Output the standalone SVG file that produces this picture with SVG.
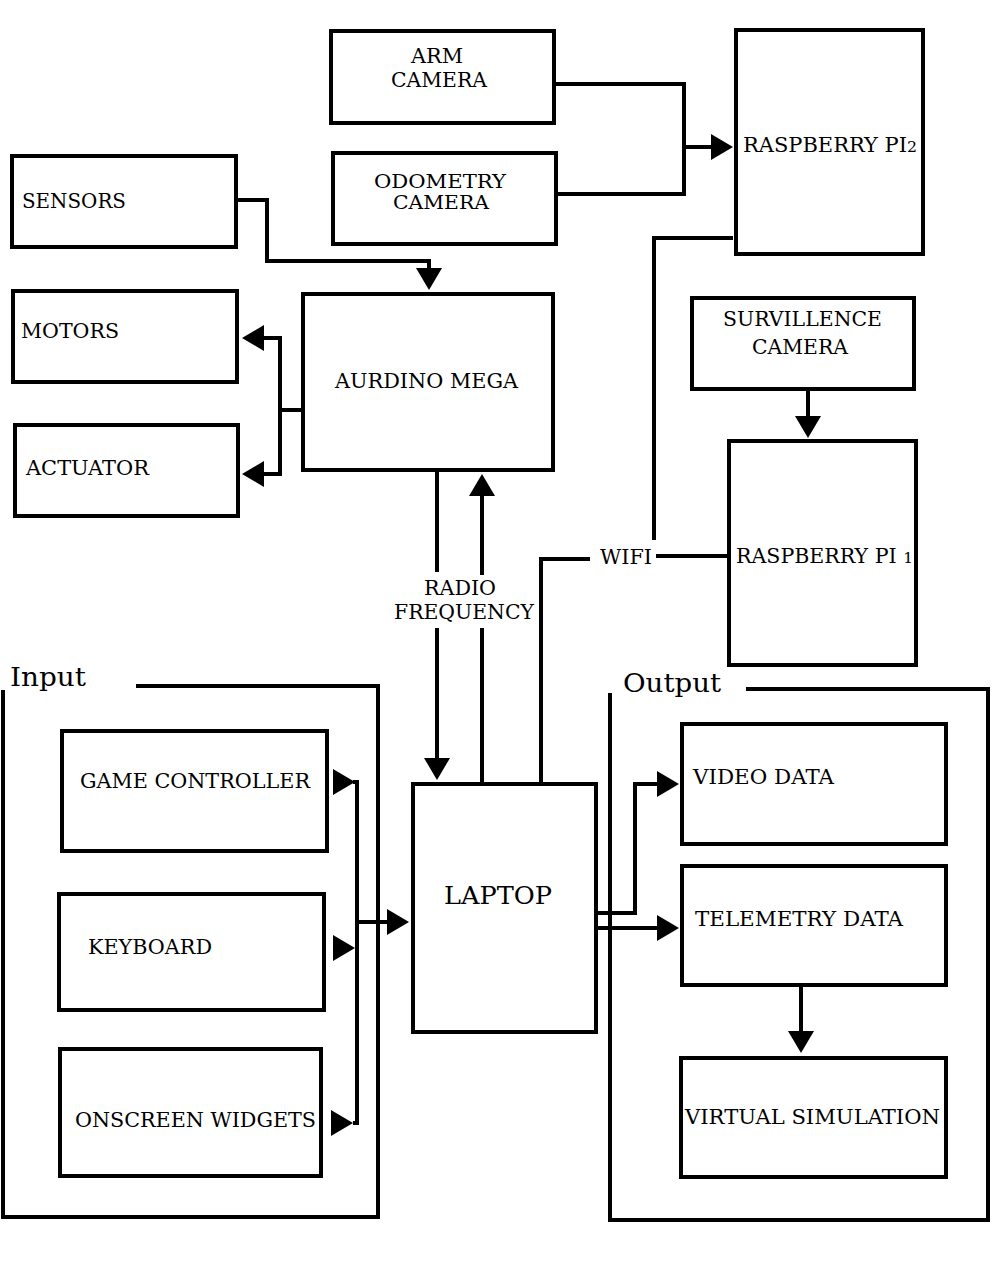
<svg xmlns="http://www.w3.org/2000/svg" width="1008" height="1276" viewBox="0 0 1008 1276">
<style>
  .box { fill: #fff; stroke: #000; stroke-width: 4; }
  .grp { fill: none; stroke: #000; stroke-width: 4; }
  .ln { fill: none; stroke: #000; stroke-width: 4; }
  .arr { marker-end: url(#ah); }
  text { font-family: "DejaVu Serif", "Liberation Serif", serif; font-size: 20px; fill: #000; }
  .sm { font-size: 19px; }
  .big { font-size: 25px; }
  .ttl { font-size: 26px; }
  .dg { font-size: 15px; }
</style>
<defs>
  <marker id="ah" markerUnits="userSpaceOnUse" markerWidth="24" markerHeight="26" refX="2" refY="13" orient="auto">
    <path d="M0,0 L22,13 L0,26 z" fill="#000"/>
  </marker>
</defs>
<rect width="1008" height="1276" fill="#fff"/>

<g id="input-group">
  <path class="grp" d="M136,686 H378 V1217 H3 V690"/>
  <text class="ttl" x="10" y="686" textLength="76" lengthAdjust="spacingAndGlyphs">Input</text>
</g>
<g id="output-group">
  <path class="grp" d="M746,689 H988 V1220 H610 V693"/>
  <text class="ttl" x="623" y="692" textLength="98" lengthAdjust="spacingAndGlyphs">Output</text>
</g>

<g id="connectors">
  <path class="ln" d="M554,84 H684 V194 H556"/>
  <path class="ln arr" d="M684,147 H713"/>
  <path class="ln arr" d="M236,200 H267 V261 H429 V270"/>
  <path class="ln" d="M303,410 H280"/>
  <path class="ln arr" d="M280,410 V338 H262"/>
  <path class="ln arr" d="M280,410 V474 H262"/>
  <path class="ln" d="M437,470 V572"/>
  <path class="ln arr" d="M437,628 V760"/>
  <path class="ln" d="M482,784 V628"/>
  <path class="ln arr" d="M482,575 V494"/>
  <path class="ln" d="M541,784 V559 H590"/>
  <path class="ln" d="M656,556 H729"/>
  <path class="ln" d="M654,540 V238 H733"/>
  <path class="ln arr" d="M808,389 V418"/>
  <path class="ln arr" d="M333,782 H335"/>
  <path class="ln arr" d="M333,948 H335"/>
  <path class="ln arr" d="M331,1123 H333"/>
  <path class="ln" d="M353,782 H357 V1123 H353"/>
  <path class="ln arr" d="M357,922 H389"/>
  <path class="ln arr" d="M596,913 H635 V784 H659"/>
  <path class="ln arr" d="M596,928 H659"/>
  <path class="ln arr" d="M801,987 V1033"/>
  <text x="600" y="564" textLength="52" lengthAdjust="spacingAndGlyphs">WIFI</text>
  <text x="424" y="595" textLength="72" lengthAdjust="spacingAndGlyphs">RADIO</text>
  <text x="394" y="619" textLength="140" lengthAdjust="spacingAndGlyphs">FREQUENCY</text>
</g>

<g id="arm-camera">
  <rect class="box" x="331" y="31" width="223" height="92"/>
  <text x="411" y="63" textLength="52" lengthAdjust="spacingAndGlyphs">ARM</text>
  <text x="391" y="87" textLength="96" lengthAdjust="spacingAndGlyphs">CAMERA</text>
</g>
<g id="odometry-camera">
  <rect class="box" x="333" y="153" width="223" height="91"/>
  <text class="sm" x="374" y="188" textLength="132" lengthAdjust="spacingAndGlyphs">ODOMETRY</text>
  <text class="sm" x="393" y="209" textLength="96" lengthAdjust="spacingAndGlyphs">CAMERA</text>
</g>
<g id="raspberry-pi2">
  <rect class="box" x="736" y="30" width="187" height="224"/>
  <text x="743" y="152" textLength="174" lengthAdjust="spacingAndGlyphs">RASPBERRY PI<tspan class="dg">2</tspan></text>
</g>
<g id="sensors">
  <rect class="box" x="12" y="156" width="224" height="91"/>
  <text x="22" y="208" textLength="104" lengthAdjust="spacingAndGlyphs">SENSORS</text>
</g>
<g id="motors">
  <rect class="box" x="13" y="291" width="224" height="91"/>
  <text x="21" y="338" textLength="98" lengthAdjust="spacingAndGlyphs">MOTORS</text>
</g>
<g id="actuator">
  <rect class="box" x="15" y="425" width="223" height="91"/>
  <text x="26" y="475" textLength="123" lengthAdjust="spacingAndGlyphs">ACTUATOR</text>
</g>
<g id="aurdino-mega">
  <rect class="box" x="303" y="294" width="250" height="176"/>
  <text x="335" y="388" textLength="183" lengthAdjust="spacingAndGlyphs">AURDINO MEGA</text>
</g>
<g id="survillence-camera">
  <rect class="box" x="692" y="298" width="222" height="91"/>
  <text x="723" y="326" textLength="159" lengthAdjust="spacingAndGlyphs">SURVILLENCE</text>
  <text x="752" y="354" textLength="96" lengthAdjust="spacingAndGlyphs">CAMERA</text>
</g>
<g id="raspberry-pi1">
  <rect class="box" x="729" y="441" width="187" height="224"/>
  <text x="736" y="563" textLength="177" lengthAdjust="spacingAndGlyphs">RASPBERRY PI <tspan class="dg">1</tspan></text>
</g>
<g id="laptop">
  <rect class="box" x="413" y="784" width="183" height="248"/>
  <text class="big" x="444" y="904" textLength="108" lengthAdjust="spacingAndGlyphs">LAPTOP</text>
</g>
<g id="game-controller">
  <rect class="box" x="62" y="731" width="265" height="120"/>
  <text x="80" y="788" textLength="230" lengthAdjust="spacingAndGlyphs">GAME CONTROLLER</text>
</g>
<g id="keyboard">
  <rect class="box" x="59" y="894" width="265" height="116"/>
  <text x="88" y="954" textLength="124" lengthAdjust="spacingAndGlyphs">KEYBOARD</text>
</g>
<g id="onscreen-widgets">
  <rect class="box" x="60" y="1049" width="261" height="127"/>
  <text x="75" y="1127" textLength="241" lengthAdjust="spacingAndGlyphs">ONSCREEN WIDGETS</text>
</g>
<g id="video-data">
  <rect class="box" x="682" y="724" width="264" height="120"/>
  <text x="693" y="784" textLength="141" lengthAdjust="spacingAndGlyphs">VIDEO DATA</text>
</g>
<g id="telemetry-data">
  <rect class="box" x="682" y="866" width="264" height="119"/>
  <text x="695" y="926" textLength="208" lengthAdjust="spacingAndGlyphs">TELEMETRY DATA</text>
</g>
<g id="virtual-simulation">
  <rect class="box" x="681" y="1058" width="265" height="119"/>
  <text x="685" y="1124" textLength="255" lengthAdjust="spacingAndGlyphs">VIRTUAL SIMULATION</text>
</g>
</svg>
